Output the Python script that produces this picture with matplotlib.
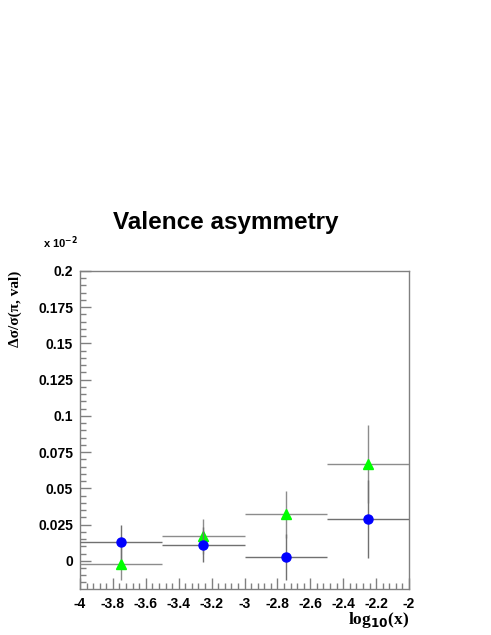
import matplotlib
matplotlib.use("Agg")
import matplotlib.pyplot as plt
from matplotlib.ticker import MultipleLocator
import numpy as np

# bins in log10(x)
x_centres = [-3.75, -3.25, -2.75, -2.25]
x_halfwidth = [0.25, 0.25, 0.25, 0.25]

# asymmetry values (units of 1e-2)
blue_y = [0.0129, 0.0111, 0.0026, 0.0290]
blue_err = [0.0115, 0.0120, 0.0160, 0.0270]
green_y = [-0.0021, 0.0168, 0.0320, 0.0668]
green_err = [0.0115, 0.0120, 0.0160, 0.0270]

y_ticks = [0, 0.025, 0.05, 0.075, 0.1, 0.125, 0.15, 0.175, 0.2]
y_ticklabels = ["0", "0.025", "0.05", "0.075", "0.1", "0.125", "0.15", "0.175", "0.2"]
x_ticks = [-4, -3.8, -3.6, -3.4, -3.2, -3, -2.8, -2.6, -2.4, -2.2, -2]
x_ticklabels = ["-4", "-3.8", "-3.6", "-3.4", "-3.2", "-3", "-2.8", "-2.6", "-2.4", "-2.2", "-2"]

sans = "Liberation Sans"
serif = "Liberation Serif"

fig = plt.figure(figsize=(4.91, 6.35), dpi=100)
ax = fig.add_axes([80/491, 46/635, 329/491, 318/635])

ax.errorbar(x_centres, green_y, xerr=x_halfwidth, yerr=green_err, fmt='^',
            color='#00ff00', ecolor='#8c8c8c', elinewidth=1.0, markersize=6.5,
            capsize=0, zorder=3)
ax.errorbar(x_centres, blue_y, xerr=x_halfwidth, yerr=blue_err, fmt='o',
            color='#0000ff', ecolor='#707070', elinewidth=1.0, markersize=6.5,
            capsize=0, zorder=4)

ax.set_xlim(-4, -2)
ax.set_ylim(-0.0195, 0.2)
ax.set_xticks(x_ticks)
ax.set_xticklabels(x_ticklabels, fontfamily=sans, fontweight='bold', fontsize=10)
ax.set_yticks(y_ticks)
ax.set_yticklabels(y_ticklabels, fontfamily=sans, fontweight='bold', fontsize=10)
ax.xaxis.set_minor_locator(MultipleLocator(0.04))
ax.yaxis.set_minor_locator(MultipleLocator(0.005))
ax.tick_params(which='both', direction='in', color='#808080', top=False, right=False)
ax.tick_params(which='major', length=8, width=1)
ax.tick_params(which='minor', length=4, width=1)
ax.tick_params(axis='x', pad=6)
ax.tick_params(axis='y', pad=5)
for sp in ax.spines.values():
    sp.set_color('#808080')
    sp.set_linewidth(1.0)

fig.text(226/491, 1 - 223/635, "Valence asymmetry", ha='center', va='center',
         fontfamily=sans, fontweight='bold', fontsize=17.5)
fig.text(43/491, 1 - 243/635, r"x 10$^{\mathbf{-2}}$", ha='left', va='center',
         fontfamily=sans, fontweight='bold', fontsize=8)
fig.text(15/491, 1 - 309/635, "Δσ/σ(π, val)", ha='center', va='center',
         rotation=90, fontfamily=serif, fontweight='bold', fontsize=11)
fig.text(409/491, 1 - 620/635, r"log$_{\mathbf{10}}$(x)", ha='right', va='center',
         fontfamily=serif, fontweight='bold', fontsize=12.5)

fig.savefig("out.png", dpi=100)
